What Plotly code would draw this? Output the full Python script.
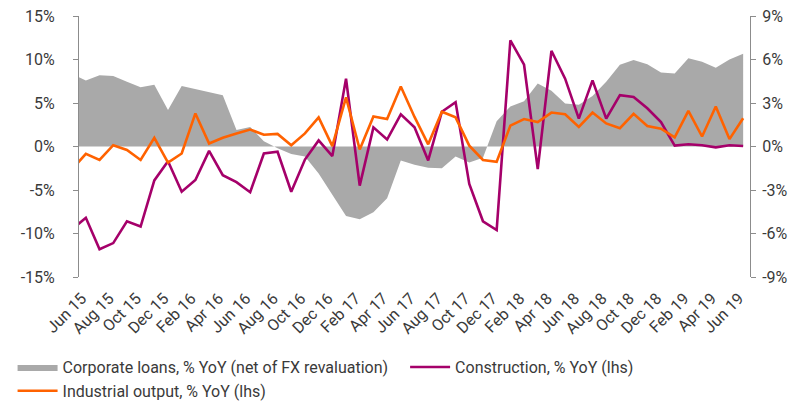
import pandas as pd
import plotly.graph_objects as go

# monthly categories, May 15 only feeds the stub at the left edge
months = list(pd.date_range("2015-05-01", "2019-06-01", freq="MS").strftime("%b %y"))

# corporate loans, % YoY (rhs)
corp_loans = [5.0, 4.56, 4.92, 4.86, 4.47, 4.08, 4.26, 2.52, 4.17, 3.96, 3.78,
              3.54, 1.14, 1.35, 0.36, -0.12, -0.51, -0.69, -1.86, -3.33, -4.8,
              -5.01, -4.53, -3.57, -0.96, -1.26, -1.47, -1.5, -0.69, -1.11, -0.78,
              1.74, 2.76, 3.12, 4.35, 3.84, 2.97, 2.88, 3.48, 4.47, 5.64, 5.97,
              5.67, 5.1, 5.04, 6.09, 5.85, 5.43, 6.0, 6.39]

# construction, % YoY (lhs)
construction = [-9.5, -8.2, -11.8, -11.1, -8.6, -9.2, -3.9, -1.7, -5.2, -3.85,
                -0.5, -3.3, -4.1, -5.25, -0.8, -0.6, -5.2, -1.5, 0.7, -1.1, 7.8,
                -4.5, 2.2, 0.8, 3.7, 2.2, -1.6, 4.0, 5.1, -4.3, -8.6, -9.6, 12.2,
                9.4, -2.6, 11.0, 7.8, 3.2, 7.6, 3.2, 5.9, 5.7, 4.4, 2.8, 0.1,
                0.25, 0.15, -0.1, 0.15, 0.05]

# industrial output, % YoY (lhs)
industrial = [-2.6, -0.85, -1.55, 0.15, -0.4, -1.55, 1.0, -1.85, -0.8, 3.8,
              0.35, 1.0, 1.5, 1.95, 1.35, 1.45, 0.15, 1.5, 3.35, 0.05, 5.65,
              -0.35, 3.45, 3.15, 6.9, 3.4, 0.25, 4.0, 3.35, 0.1, -1.55, -1.75,
              2.4, 3.15, 2.8, 3.9, 3.7, 2.25, 3.9, 2.65, 2.1, 3.75, 2.35, 2.05,
              1.05, 4.1, 1.15, 4.6, 0.85, 3.25]

left_ticks = [-15, -10, -5, 0, 5, 10, 15]
right_ticks = [-9, -6, -3, 0, 3, 6, 9]

x = list(range(len(months)))
label_pos = [i - 0.3 for i in x[1::2]]   # rotated text ends just at the point
label_txt = months[1::2]
bounds = [i + 0.5 for i in x[2:-1:2]]

font = "Roboto, sans-serif"
txt = "#3a3a3a"
axc = "#8c8c8c"

fig = go.Figure()
fig.add_trace(go.Scatter(x=x, y=corp_loans, yaxis="y", fill="tozeroy",
                         mode="lines", line=dict(width=0, color="#a9a9a9"),
                         fillcolor="#a9a9a9", hoverinfo="none", legend="legend",
                         name="Corporate loans, % YoY (net of FX revaluation)"))
fig.add_trace(go.Scatter(x=x, y=construction, yaxis="y2", mode="lines",
                         line=dict(width=2.6, color="#a5006a"), hoverinfo="none",
                         legend="legend2", name="Construction, % YoY (lhs)"))
fig.add_trace(go.Scatter(x=x, y=industrial, yaxis="y2", mode="lines",
                         line=dict(width=2.6, color="#ff6200"), hoverinfo="none",
                         legend="legend", name="Industrial output, % YoY (lhs)"))

leg = dict(orientation="v", yanchor="top", xanchor="left", y=-0.28,
           font=dict(size=16), itemwidth=40, tracegroupgap=0,
           traceorder="normal", bgcolor="rgba(0,0,0,0)")

# the page body adds an 8px offset, so the figure is 8px smaller
fig.update_layout(
    width=792, height=398,
    margin=dict(l=71, r=50, t=8, b=129, autoexpand=False),
    paper_bgcolor="white", plot_bgcolor="white",
    font=dict(family=font, size=16, color=txt),
    showlegend=True,
    legend=dict(leg, x=-0.099),
    legend2=dict(leg, x=0.486),
    xaxis=dict(range=[0.5, len(months) - 0.5], tickmode="array", tickvals=label_pos,
               ticktext=label_txt, tickangle=-45, ticks="", showline=False,
               showgrid=False, zeroline=False, tickfont=dict(size=16),
               ticklabelstandoff=8, automargin=False),
    xaxis2=dict(overlaying="x", anchor="free", position=0.5,
                range=[0.5, len(months) - 0.5], tickmode="array", tickvals=bounds,
                showticklabels=False, ticks="outside", ticklen=5, tickcolor=axc,
                showline=True, linecolor=axc, linewidth=1.2, showgrid=False,
                zeroline=False, automargin=False),
    yaxis=dict(side="right", range=[-9, 9], tickvals=right_ticks,
               ticktext=[f"{v}%" for v in right_ticks], showgrid=False,
               zeroline=False, showline=True, linecolor=axc, ticks="outside",
               ticklen=5, tickcolor=axc, tickfont=dict(size=16),
               ticklabelstandoff=3, ticklabeloverflow="allow", automargin=False),
    yaxis2=dict(side="left", overlaying="y", range=[-15, 15], tickvals=left_ticks,
                ticktext=[f"{v}%" for v in left_ticks], showgrid=False,
                zeroline=False, showline=True, linecolor=axc, ticks="outside",
                ticklen=5, tickcolor=axc, tickfont=dict(size=16),
                ticklabelstandoff=15, ticklabeloverflow="allow", automargin=False),
)

fig.write_html("out.html")
